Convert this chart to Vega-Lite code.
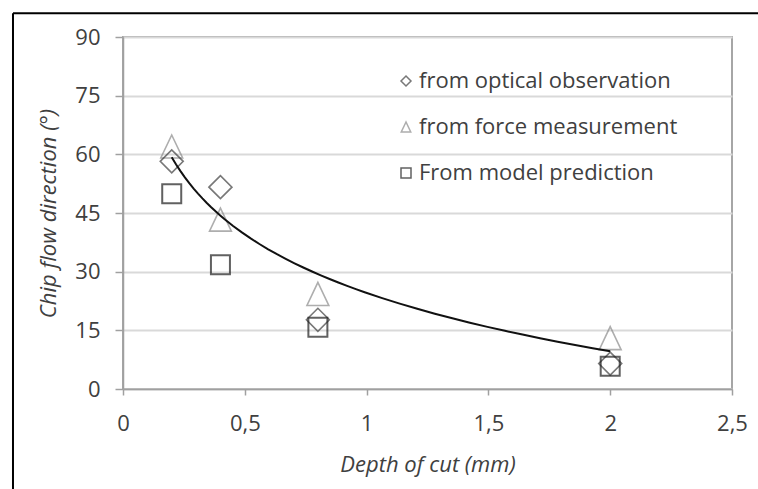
{
  "$schema": "https://vega.github.io/schema/vega-lite/v6.json",
  "width": 609,
  "height": 352,
  "autosize": "none",
  "padding": {"left": 123, "top": 37, "right": 26, "bottom": 100},
  "background": "white",
  "config": {
    "font": "Open Sans",
    "view": {"stroke": "#a6a6a6", "strokeWidth": 2},
    "axis": {
      "labelFont": "Open Sans",
      "labelFontSize": 22,
      "labelColor": "#404040",
      "titleFont": "Open Sans",
      "titleFontSize": 22,
      "titleFontWeight": "normal",
      "titleFontStyle": "italic",
      "titleColor": "#404040",
      "domainColor": "#a0a0a0",
      "domainWidth": 1.5,
      "tickColor": "#a0a0a0",
      "tickWidth": 1.5
    },
    "legend": {
      "labelFont": "Open Sans",
      "labelFontSize": 22,
      "labelColor": "#404040",
      "labelLimit": 0,
      "symbolSize": 100,
      "symbolStrokeWidth": 1.5
    }
  },
  "datasets": {
    "points": [
      {"series": "from force measurement", "depth": 0.2, "angle": 62.0},
      {"series": "from force measurement", "depth": 0.4, "angle": 43.3},
      {"series": "from force measurement", "depth": 0.8, "angle": 24.3},
      {"series": "from force measurement", "depth": 2.0, "angle": 13.0},
      {"series": "from optical observation", "depth": 0.2, "angle": 58.2},
      {"series": "from optical observation", "depth": 0.4, "angle": 51.6},
      {"series": "from optical observation", "depth": 0.8, "angle": 17.7},
      {"series": "from optical observation", "depth": 2.0, "angle": 6.5},
      {"series": "From model prediction", "depth": 0.2, "angle": 49.9},
      {"series": "From model prediction", "depth": 0.4, "angle": 31.8},
      {"series": "From model prediction", "depth": 0.8, "angle": 15.8},
      {"series": "From model prediction", "depth": 2.0, "angle": 5.8}
    ]
  },
  "data": {"name": "points"},
  "layer": [
    {
      "data": {"values": [{"frame": "left"}]},
      "mark": {"type": "rule", "color": "black", "strokeWidth": 2},
      "encoding": {
        "x": {"datum": -0.4516, "type": "quantitative"},
        "y": {"datum": 96.1, "type": "quantitative"},
        "y2": {"datum": -30}
      }
    },
    {
      "data": {"values": [{"frame": "top"}]},
      "mark": {"type": "rule", "color": "black", "strokeWidth": 2},
      "encoding": {
        "x": {"datum": -0.4516, "type": "quantitative"},
        "x2": {"datum": 2.8},
        "y": {"datum": 96.1, "type": "quantitative"}
      }
    },
    {
      "transform": [{"filter": "datum.series === 'from force measurement'"}],
      "mark": {"type": "point", "filled": false, "size": 529, "strokeWidth": 1.6},
      "encoding": {
        "x": {
          "field": "depth",
          "type": "quantitative",
          "scale": {"domain": [0, 2.5], "nice": false, "zero": false},
          "axis": {
            "values": [0, 0.5, 1, 1.5, 2, 2.5],
            "format": "~g",
            "labelExpr": "replace(datum.label, '.', ',')",
            "labelFlush": false,
            "grid": false,
            "tickSize": 6,
            "labelPadding": 18,
            "title": "Depth of cut (mm)",
            "titlePadding": 20
          }
        },
        "y": {
          "field": "angle",
          "type": "quantitative",
          "scale": {"domain": [0, 90], "nice": false},
          "axis": {
            "values": [0, 15, 30, 45, 60, 75, 90],
            "grid": true,
            "gridColor": "#d9d9d9",
            "gridWidth": 2,
            "tickSize": 8,
            "labelPadding": 15,
            "title": "Chip flow direction (°)",
            "titlePadding": 14
          }
        },
        "shape": {
          "field": "series",
          "type": "nominal",
          "scale": {
            "domain": ["from optical observation", "from force measurement", "From model prediction"],
            "range": ["diamond", "M0,-1L-0.95,1L0.95,1Z", "square"]
          },
          "legend": {
            "title": null,
            "orient": "none",
            "legendX": 272,
            "legendY": 33,
            "padding": 0,
            "rowPadding": 24,
            "labelOffset": 2
          }
        },
        "color": {
          "field": "series",
          "type": "nominal",
          "scale": {
            "domain": ["from optical observation", "from force measurement", "From model prediction"],
            "range": ["#3f3f3f", "#8c8c8c", "#1f1f1f"]
          },
          "legend": {
            "title": null,
            "orient": "none",
            "legendX": 272,
            "legendY": 33,
            "padding": 0,
            "rowPadding": 24,
            "labelOffset": 2
          }
        }
      }
    },
    {
      "transform": [{"filter": "datum.series === 'from optical observation'"}],
      "mark": {"type": "point", "filled": false, "size": 529, "strokeWidth": 1.6},
      "encoding": {
        "x": {"field": "depth", "type": "quantitative"},
        "y": {"field": "angle", "type": "quantitative"},
        "shape": {"field": "series", "type": "nominal"},
        "color": {"field": "series", "type": "nominal"}
      }
    },
    {
      "transform": [{"filter": "datum.series === 'From model prediction'"}],
      "mark": {"type": "point", "filled": false, "size": 361, "strokeWidth": 2},
      "encoding": {
        "x": {"field": "depth", "type": "quantitative"},
        "y": {"field": "angle", "type": "quantitative"},
        "shape": {"field": "series", "type": "nominal"},
        "color": {"field": "series", "type": "nominal"}
      }
    },
    {
      "transform": [
        {"filter": "datum.series === 'from force measurement'"},
        {"regression": "angle", "on": "depth", "method": "log"}
      ],
      "mark": {"type": "line", "color": "#111111", "strokeWidth": 2},
      "encoding": {
        "x": {"field": "depth", "type": "quantitative"},
        "y": {"field": "angle", "type": "quantitative"}
      }
    }
  ]
}
